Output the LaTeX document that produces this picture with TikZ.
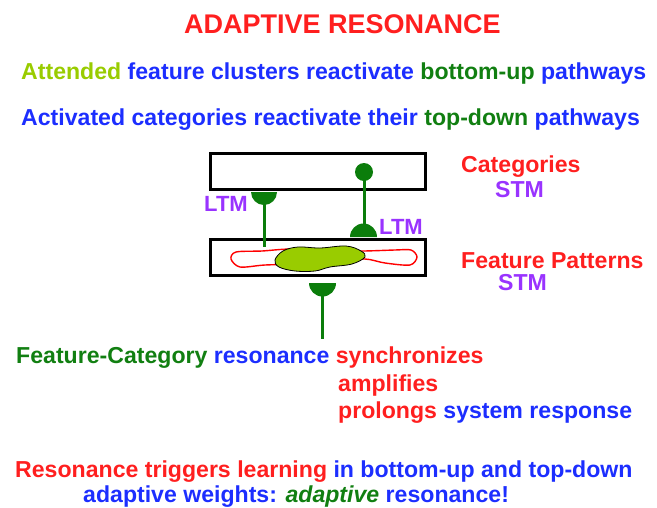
\documentclass[tikz,border=0pt]{standalone}
\usepackage{fontspec}
\setmainfont{Liberation Sans}
\definecolor{hred}{HTML}{FF1F1F}
\definecolor{hblue}{HTML}{1C2EFF}
\definecolor{hgreen}{HTML}{117F11}
\definecolor{lgreen}{HTML}{99CC00}
\definecolor{hpurple}{HTML}{9933FF}
\definecolor{syn}{HTML}{0B7D0B}
\begin{document}
\begin{tikzpicture}[x=1pt,y=-1pt,
  txt/.style={anchor=base west, inner sep=0pt, font=\fontsize{23.1}{27}\selectfont\bfseries},
  layer/.style={draw=black, line width=3pt, fill=white},
  axon/.style={draw=syn, line width=3pt},
  knob/.style={fill=syn}]
\useasboundingbox (0,0) rectangle (657,507);

% heading lines
\node[txt, anchor=base, font=\fontsize{27}{30}\selectfont\bfseries, text=hred] (title) at (342.5,33) {ADAPTIVE RESONANCE};
\node[txt] (l1) at (21,79) {\textcolor{lgreen}{Attended} \textcolor{hblue}{feature clusters reactivate} \textcolor{hgreen}{bottom-up} \textcolor{hblue}{pathways}};
\node[txt] (l2) at (21,125) {\textcolor{hblue}{Activated categories reactivate their} \textcolor{hgreen}{top-down} \textcolor{hblue}{pathways}};

% the two layers
\node[layer, minimum width=215pt, minimum height=36pt, inner sep=0pt] (cat) at (317.5,171) {};
\node[layer, minimum width=215pt, minimum height=36pt, inner sep=0pt] (feat) at (317.5,257) {};

% feature pattern inside F1
\draw[draw=red, line width=1.4pt, fill=white] plot[smooth cycle, tension=0.5] coordinates {
  (231,259) (236,252) (262,251) (290,249) (330,250) (362,251) (395,250) (411,250)
  (417,257) (410,265) (385,263) (365,259) (340,262) (300,264) (265,265) (240,267)};
\draw[draw=black, line width=0.8pt, fill=lgreen] plot[smooth cycle, tension=0.6] coordinates {
  (275,260) (283,251) (298,247) (320,248) (346,246) (361,251) (365,257)
  (352,264) (330,267) (315,271) (295,271) (279,267)};

% bottom-up pathway: F1 -> category layer
\coordinate (bu) at (264,192);
\coordinate (bubase) at (264,247);
\fill[knob] (251,192) arc[start angle=180, end angle=0, radius=13] -- cycle;
\draw[axon] (264,204) -- (bubase);

% top-down pathway: category layer -> F1
\node[circle, fill=syn, minimum size=18pt, inner sep=0pt] (tdcell) at (364,172) {};
\coordinate (td) at (364,237);
\fill[knob] (350,237) arc[start angle=180, end angle=360, radius=13.5] -- cycle;
\draw[axon] (tdcell.center) -- (364,225);

% output pathway below F1
\coordinate (out) at (322,339);
\fill[knob] (309,283) arc[start angle=180, end angle=0, radius=13.5] -- cycle;
\draw[axon] (322.5,295) -- (322.5,339);

% layer labels
\node[txt, text=hpurple, font=\fontsize{22}{26}\selectfont\bfseries] (ltm1) at (204,211) {LTM};
\node[txt, text=hpurple, font=\fontsize{22}{26}\selectfont\bfseries] (ltm2) at (379,234) {LTM};
\node[txt, text=hred] (catlab) at (461,172) {Categories};
\node[txt, text=hpurple] (stm1) at (495,197) {STM};
\node[txt, text=hred] (featlab) at (461,268) {Feature Patterns};
\node[txt, text=hpurple] (stm2) at (498,290) {STM};

% consequences of resonance
\node[txt] (r1) at (16,363) {\textcolor{hgreen}{Feature-Category} \textcolor{hblue}{resonance} \textcolor{hred}{synchronizes}};
\node[txt, text=hred] (r2) at (338,391) {amplifies};
\node[txt] (r3) at (338,418) {\textcolor{hred}{prolongs} \textcolor{hblue}{system response}};
\node[txt] (r4) at (15,477) {\textcolor{hred}{Resonance triggers learning} \textcolor{hblue}{in bottom-up and top-down}};
\node[txt] (r5) at (83,502) {\textcolor{hblue}{adaptive weights:} \textcolor{hgreen}{\itshape adaptive} \textcolor{hblue}{resonance!}};
\end{tikzpicture}
\end{document}
